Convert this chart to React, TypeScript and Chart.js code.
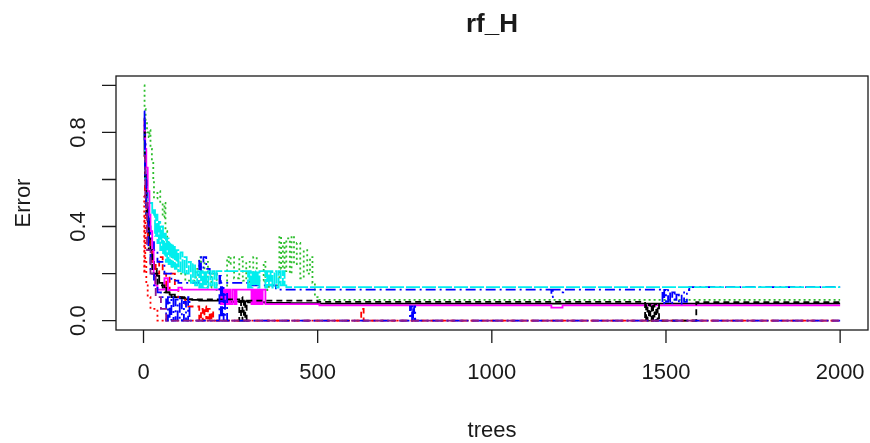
import React, { useEffect, useRef } from "react";
import { Chart, registerables } from "chart.js";

Chart.register(...registerables);

const chartTitle = "rf_H";
const xAxisTitle = "trees";
const yAxisTitle = "Error";
const xTickValues = [0, 500, 1000, 1500, 2000];
const xTickLabels = ["0", "500", "1000", "1500", "2000"];
const yTickValues = [0, 0.2, 0.4, 0.6, 0.8, 1.0];
const yTickLabels = ["0.0", "", "0.4", "", "0.8", ""];

// [tree, error] change points
const oobErr = [[1,0.86],[3,0.7],[5,0.62],[8,0.5],[12,0.42],[16,0.35],[20,0.3],[25,0.25],[30,0.22],[38,0.19],[45,0.16],[55,0.14],[65,0.12],[75,0.11],[90,0.1],[105,0.095],[120,0.09],[140,0.088],[160,0.085],[230,0.08],[260,0.082],[300,0.078],[350,0.075],[420,0.074],[500,0.072],[2000,0.072]];
const redDashErr = [[1,0.7],[4,0.55],[8,0.45],[12,0.35],[18,0.3],[25,0.25],[35,0.2],[45,0.27],[55,0.2],[65,0.13],[75,0.2],[90,0.13],[100,0.1],[120,0.06],[160,0.0],[165,0.05],[170,0.0],[175,0.06],[180,0.01],[185,0.05],[190,0.0],[195,0.04],[200,0.0],[625,0.05],[632,0.0],[2000,0.0]];
const greenErr = [[1,1.0],[3,0.9],[6,0.85],[10,0.8],[15,0.78],[17,0.81],[20,0.73],[24,0.68],[28,0.6],[30,0.52],[40,0.55],[48,0.5],[55,0.44],[60,0.5],[63,0.38],[68,0.32],[75,0.29],[82,0.23],[90,0.26],[100,0.2],[120,0.17],[150,0.22],[160,0.27],[165,0.18],[175,0.25],[185,0.14],[195,0.2],[210,0.13],[240,0.27],[245,0.24],[250,0.27],[260,0.18],[275,0.27],[285,0.17],[295,0.25],[305,0.16],[315,0.27],[325,0.17],[345,0.25],[350,0.13],[360,0.15],[390,0.36],[395,0.22],[400,0.33],[405,0.21],[410,0.35],[420,0.2],[425,0.36],[432,0.24],[440,0.33],[450,0.18],[460,0.3],[470,0.2],[478,0.27],[485,0.16],[492,0.1],[500,0.088],[2000,0.088]];
const blueDotDashErr = [[1,0.89],[3,0.75],[6,0.6],[10,0.5],[15,0.4],[20,0.35],[30,0.3],[40,0.25],[60,0.2],[80,0.17],[100,0.16],[160,0.27],[165,0.21],[172,0.27],[180,0.22],[190,0.2],[220,0.16],[300,0.15],[380,0.132],[1171,0.1],[1175,0.132],[1200,0.12],[1205,0.132],[1487,0.132],[1490,0.07],[1495,0.13],[1500,0.08],[1506,0.13],[1512,0.07],[1518,0.12],[1525,0.08],[1530,0.11],[1537,0.07],[1545,0.12],[1552,0.08],[1560,0.13],[1567,0.142],[2000,0.142]];
const cyanErr = [[1,0.75],[4,0.6],[8,0.55],[15,0.5],[25,0.45],[30,0.47],[33,0.36],[36,0.45],[40,0.33],[44,0.42],[48,0.3],[52,0.4],[56,0.28],[60,0.37],[64,0.25],[68,0.35],[72,0.24],[76,0.33],[80,0.23],[85,0.32],[90,0.22],[95,0.3],[100,0.21],[106,0.29],[112,0.2],[118,0.27],[124,0.2],[130,0.25],[136,0.16],[142,0.24],[148,0.15],[154,0.21],[160,0.14],[165,0.21],[170,0.14],[175,0.21],[180,0.14],[186,0.21],[192,0.15],[198,0.21],[204,0.14],[210,0.21],[300,0.14],[304,0.21],[308,0.14],[313,0.21],[318,0.15],[323,0.21],[328,0.14],[333,0.21],[350,0.14],[355,0.21],[360,0.15],[365,0.21],[370,0.14],[376,0.21],[382,0.14],[388,0.21],[394,0.15],[400,0.21],[405,0.15],[410,0.142],[2000,0.142]];
const magentaErr = [[1,0.85],[3,0.8],[5,0.73],[8,0.65],[12,0.55],[17,0.45],[20,0.38],[25,0.3],[29,0.2],[33,0.15],[40,0.132],[60,0.18],[70,0.13],[100,0.14],[110,0.132],[218,0.132],[222,0.07],[226,0.132],[230,0.07],[235,0.132],[240,0.07],[245,0.132],[250,0.07],[256,0.132],[262,0.07],[267,0.132],[310,0.07],[314,0.132],[318,0.07],[322,0.132],[327,0.07],[332,0.132],[337,0.07],[342,0.132],[350,0.07],[505,0.065],[1171,0.055],[1203,0.065],[2000,0.065]];
const blackDashErr = [[1,0.8],[4,0.6],[8,0.45],[15,0.3],[25,0.2],[40,0.15],[60,0.12],[80,0.1],[120,0.09],[270,0.09],[275,0.0],[280,0.1],[284,0.0],[288,0.09],[292,0.0],[296,0.085],[500,0.08],[1440,0.0],[1443,0.07],[1447,0.0],[1451,0.07],[1455,0.0],[1459,0.07],[1463,0.0],[1467,0.07],[1472,0.0],[1476,0.07],[1480,0.0],[1587,0.078],[2000,0.078]];
const redDotErr = [[1,0.53],[2,0.2],[3,0.45],[5,0.25],[8,0.15],[12,0.1],[20,0.05],[40,0.0],[2000,0.0]];
const blueLowErr = [[1,0.85],[4,0.6],[8,0.45],[14,0.3],[20,0.2],[30,0.15],[40,0.12],[50,0.1],[65,0.0],[70,0.1],[75,0.0],[80,0.1],[86,0.0],[92,0.09],[98,0.0],[104,0.1],[110,0.0],[116,0.08],[122,0.0],[128,0.1],[132,0.0],[218,0.19],[222,0.0],[226,0.15],[230,0.0],[234,0.12],[240,0.0],[765,0.06],[768,0.0],[771,0.065],[774,0.0],[777,0.06],[780,0.0],[2000,0.0]];
const purpleErr = [[1,0.7],[5,0.5],[10,0.3],[20,0.2],[35,0.1],[50,0.05],[65,0.0],[2000,0.0]];

const seriesList = [
  { name: "OOB", pts: oobErr, color: "#000000", dash: [] as number[] },
  { name: "c1", pts: redDashErr, color: "#FF0000", dash: [6, 4] },
  { name: "c2", pts: greenErr, color: "#2DBE2D", dash: [2, 3] },
  { name: "c3", pts: blueDotDashErr, color: "#0000FF", dash: [10, 4, 2, 4] },
  { name: "c4", pts: cyanErr, color: "#00EEEE", dash: [14, 2] },
  { name: "c5", pts: magentaErr, color: "#FF00FF", dash: [] as number[] },
  { name: "c6", pts: blackDashErr, color: "#000000", dash: [6, 4] },
  { name: "c7", pts: redDotErr, color: "#FF0000", dash: [2, 3] },
  { name: "c8", pts: blueLowErr, color: "#0000FF", dash: [10, 4, 2, 4] },
  { name: "c9", pts: purpleErr, color: "#8B1A8B", dash: [8, 4] },
];

const W = 870;
const H = 443;
const BOX = { left: 116, top: 76, right: 868, bottom: 330 };
const FONT = "'Liberation Sans', Arial, Helvetica, sans-serif";
const INK = "#1a1a1a";

const axesPlugin = {
  id: "rAxes",
  afterDraw(chart: any) {
    const ctx = chart.ctx as CanvasRenderingContext2D;
    const xs = chart.scales.x;
    const ys = chart.scales.y;
    const a = chart.chartArea;
    ctx.save();
    ctx.strokeStyle = INK;
    ctx.fillStyle = INK;
    ctx.lineWidth = 1.3;
    ctx.setLineDash([]);
    ctx.strokeRect(a.left, a.top, a.right - a.left, a.bottom - a.top);
    ctx.beginPath();
    xTickValues.forEach((v) => {
      const px = xs.getPixelForValue(v);
      ctx.moveTo(px, a.bottom);
      ctx.lineTo(px, a.bottom + 13);
    });
    yTickValues.forEach((v) => {
      const py = ys.getPixelForValue(v);
      ctx.moveTo(a.left, py);
      ctx.lineTo(a.left - 14, py);
    });
    ctx.stroke();
    ctx.font = `22px ${FONT}`;
    ctx.textAlign = "center";
    ctx.textBaseline = "alphabetic";
    xTickValues.forEach((v, i) => {
      ctx.fillText(xTickLabels[i], xs.getPixelForValue(v), a.bottom + 49);
    });
    yTickValues.forEach((v, i) => {
      if (!yTickLabels[i]) return;
      ctx.save();
      ctx.translate(a.left - 31, ys.getPixelForValue(v));
      ctx.rotate(-Math.PI / 2);
      ctx.fillText(yTickLabels[i], 0, 0);
      ctx.restore();
    });
    const cx = (a.left + a.right) / 2;
    const cy = (a.top + a.bottom) / 2;
    ctx.fillText(xAxisTitle, cx, a.bottom + 107);
    ctx.save();
    ctx.translate(30, cy);
    ctx.rotate(-Math.PI / 2);
    ctx.fillText(yAxisTitle, 0, 0);
    ctx.restore();
    ctx.font = `bold 26px ${FONT}`;
    ctx.fillText(chartTitle, cx, 32);
    ctx.restore();
  },
};

export default function App() {
  const ref = useRef<HTMLCanvasElement | null>(null);
  useEffect(() => {
    document.body.style.margin = "0";
    document.body.style.background = "#ffffff";
    const canvas = ref.current!;
    const datasets = seriesList
      .map((s) => ({
        label: s.name,
        data: s.pts.map((p) => ({ x: p[0], y: p[1] })),
        borderColor: s.color,
        backgroundColor: s.color,
        borderWidth: 1.8,
        borderDash: s.dash,
        pointRadius: 0,
        stepped: true as const,
        fill: false,
      }))
      .reverse();
    const chart = new Chart(canvas, {
      type: "line",
      data: { datasets },
      options: {
        responsive: false,
        animation: false,
        maintainAspectRatio: false,
        layout: {
          padding: { left: BOX.left, top: BOX.top, right: W - BOX.right, bottom: H - BOX.bottom },
        },
        plugins: { legend: { display: false }, tooltip: { enabled: false }, title: { display: false } },
        scales: {
          x: { type: "linear", min: -79, max: 2080, display: false },
          y: { type: "linear", min: -0.04, max: 1.04, display: false },
        },
      },
      plugins: [axesPlugin],
    });
    return () => chart.destroy();
  }, []);
  return <canvas ref={ref} width={W} height={H} style={{ display: "block" }} />;
}
